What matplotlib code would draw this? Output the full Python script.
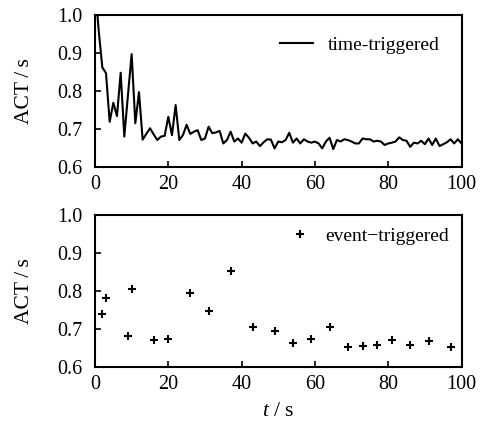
import matplotlib
matplotlib.use("Agg")
import matplotlib.pyplot as plt
import numpy as np

plt.rcParams['font.family'] = ['Liberation Serif', 'DejaVu Serif']
plt.rcParams['mathtext.fontset'] = 'custom'
plt.rcParams['mathtext.rm'] = 'Liberation Serif'
plt.rcParams['mathtext.it'] = 'Liberation Serif:italic'

# time-triggered ACT (s), sampled every second
time_t = list(range(0, 101))
time_act = [1.08, 0.96, 0.862, 0.847, 0.719, 0.769, 0.734, 0.848, 0.680, 0.79,
            0.897, 0.715, 0.797, 0.672, 0.687, 0.702, 0.686, 0.671, 0.680, 0.682,
            0.732, 0.684, 0.763, 0.671, 0.684, 0.711, 0.687, 0.693, 0.697, 0.671,
            0.675, 0.706, 0.689, 0.691, 0.695, 0.662, 0.671, 0.693, 0.667, 0.675,
            0.664, 0.688, 0.677, 0.662, 0.667, 0.655, 0.665, 0.673, 0.672, 0.649,
            0.667, 0.665, 0.671, 0.690, 0.664, 0.675, 0.662, 0.673, 0.667, 0.664,
            0.667, 0.662, 0.649, 0.667, 0.677, 0.647, 0.671, 0.667, 0.673, 0.671,
            0.667, 0.662, 0.662, 0.675, 0.673, 0.673, 0.667, 0.669, 0.667, 0.658,
            0.662, 0.664, 0.667, 0.678, 0.671, 0.669, 0.653, 0.664, 0.662, 0.669,
            0.660, 0.675, 0.658, 0.675, 0.655, 0.660, 0.665, 0.673, 0.662, 0.673,
            0.662]

# event-triggered ACT (s)
event_t = [2, 3, 9, 10, 16, 20, 26, 31, 37, 43, 49, 54, 59, 64, 69, 73, 77, 81, 86, 91, 97]
event_act = [0.740, 0.780, 0.680, 0.805, 0.670, 0.672, 0.795, 0.748, 0.852, 0.706,
             0.694, 0.662, 0.672, 0.705, 0.652, 0.655, 0.656, 0.670, 0.658, 0.667, 0.652]

xticks = [0, 20, 40, 60, 80, 100]
yticks = [0.6, 0.7, 0.8, 0.9, 1.0]

fig = plt.figure(figsize=(4.81, 4.28), dpi=100)
ax1 = fig.add_axes([0.1975, 0.6098, 0.762, 0.3552])
ax2 = fig.add_axes([0.1975, 0.1432, 0.762, 0.3545])

ax1.plot(time_t, time_act, color='black', lw=1.5, label='time-triggered')
ax2.plot(event_t, event_act, linestyle='none', marker='+', color='black',
         markersize=6, markeredgewidth=1.5, label='event\u2212triggered')

for ax in (ax1, ax2):
    ax.set_xlim(0, 100)
    ax.set_ylim(0.6, 1.0)
    ax.set_xticks(xticks)
    ax.set_yticks(yticks)
    ax.set_yticklabels(['%.1f' % v for v in yticks])
    ax.tick_params(direction='in', length=4, width=1.2, labelsize=14.5,
                   top=False, right=False)
    ax.tick_params(axis='x', pad=6)
    ax.tick_params(axis='y', pad=9)
    for s in ax.spines.values():
        s.set_linewidth(1.5)
    ax.set_ylabel('ACT\u2009/\u2009s', fontsize=15.5, labelpad=17)

ax1.legend(loc='upper right', frameon=False, fontsize=14, handlelength=1.7,
           handletextpad=0.8, borderaxespad=0.7)
ax2.legend(loc='upper right', frameon=False, fontsize=14, handlelength=0.6,
           handletextpad=1.0, borderaxespad=0.25)
ax2.set_xlabel(r'$t$ / s', fontsize=15.5, labelpad=6)

fig.savefig('out.png', dpi=100)
